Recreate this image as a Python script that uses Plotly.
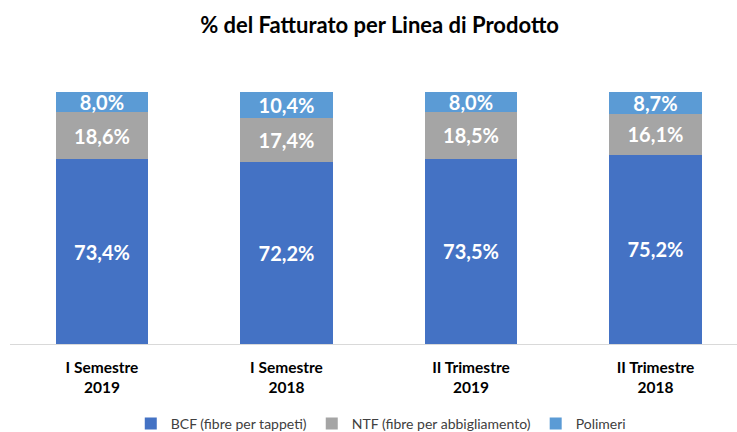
import plotly.graph_objects as go

categories = ["I Semestre<br>2019", "I Semestre<br>2018", "II Trimestre<br>2019", "II Trimestre<br>2018"]
bcf = [73.4, 72.2, 73.5, 75.2]
ntf = [18.6, 17.4, 18.5, 16.1]
polimeri = [8.0, 10.4, 8.0, 8.7]

series = [
    ("BCF (fibre per tappeti)", bcf, "#4472C4"),
    ("NTF (fibre per abbigliamento)", ntf, "#A5A5A5"),
    ("Polimeri", polimeri, "#5B9BD5"),
]

FONT = "Lato, 'Open Sans', sans-serif"
xidx = list(range(len(categories)))

fig = go.Figure()
for name, vals, color in series:
    fig.add_trace(go.Bar(
        x=xidx, y=vals, name=name,
        marker=dict(color=color, line=dict(width=0)),
        width=0.5,
        texttemplate="%{y:.1f}%",
        textposition="inside",
        insidetextanchor="middle",
        constraintext="none",
        textfont=dict(family=FONT, size=20, color="white", weight="bold"),
        hoverinfo="skip",
    ))

fig.update_layout(
    barmode="stack",
    separators=",.",
    width=737, height=432,
    margin=dict(l=10, r=0, t=92, b=88, autoexpand=False),
    plot_bgcolor="white", paper_bgcolor="white",
    title=dict(text="% del Fatturato per Linea di Prodotto", x=0.515, xanchor="center",
               y=1 - 25/432, yanchor="middle",
               font=dict(family=FONT, size=22, color="black", weight="bold")),
    xaxis=dict(range=[-0.4986, 3.442], tickvals=xidx, ticktext=categories,
               showgrid=False, showline=True, linecolor="#D9D9D9", linewidth=1,
               ticks="", ticklabelstandoff=9, automargin=False,
               tickfont=dict(family=FONT, size=15.5, color="black", weight="bold"),
               zeroline=False),
    yaxis=dict(range=[0, 100], visible=False, automargin=False),
    legend=dict(orientation="h", x=0.51, xanchor="center", y=-(424 - 344) / 252, yanchor="middle",
                font=dict(family=FONT, size=14, color="#404040"),
                traceorder="normal", itemwidth=30),
    showlegend=True,
)

fig.write_html("out.html")
